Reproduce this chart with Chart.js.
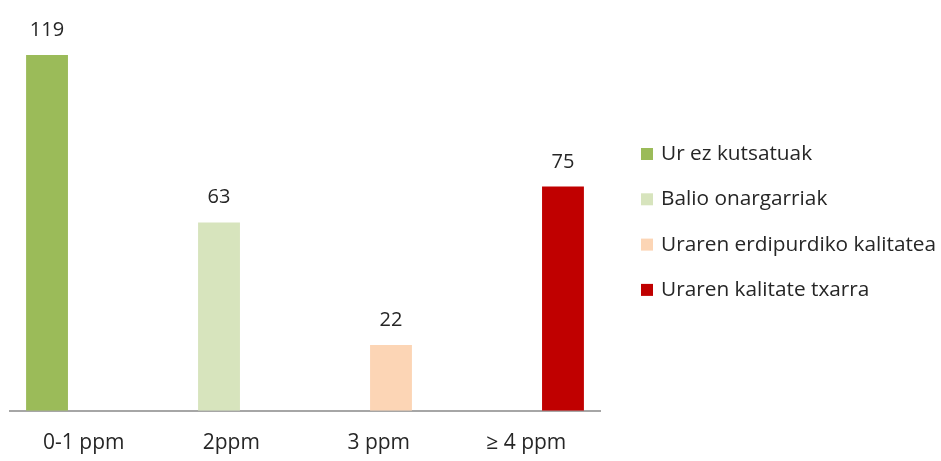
<!DOCTYPE html>
<html>
<head>
<meta charset="utf-8">
<script src="https://cdn.jsdelivr.net/npm/chart.js@4"></script>
<style>
  html, body { margin: 0; padding: 0; background: #fff; }
  #wrap { width: 941px; height: 461px; }
</style>
</head>
<body>
<div id="wrap"><canvas id="chart"></canvas></div>
<script>
// --- data ---
const categories = ['0-1 ppm', '2ppm', '3 ppm', '\u2265 4 ppm'];
const values = [119, 63, 22, 75];
const seriesLabels = ['Ur ez kutsatuak', 'Balio onargarriak', 'Uraren erdipurdiko kalitatea', 'Uraren kalitate txarra'];
const seriesColors = ['#9BBB59', '#D7E4BD', '#FCD5B5', '#C00000'];

const FONT = "'Open Sans', Lato, sans-serif";

// one dataset per class, each with a value only in its own category
const datasets = seriesLabels.map((label, i) => ({
  label: label,
  data: categories.map((_, j) => (j === i ? values[i] : null)),
  backgroundColor: seriesColors[i],
  borderWidth: 0,
  categoryPercentage: 0.664,
  barPercentage: 1.71
}));

// value labels above bars
const valueLabels = {
  id: 'valueLabels',
  afterDatasetsDraw(chart) {
    const ctx = chart.ctx;
    ctx.save();
    ctx.font = '20px ' + FONT;
    ctx.fillStyle = '#262626';
    ctx.textAlign = 'center';
    ctx.textBaseline = 'alphabetic';
    chart.data.datasets.forEach((ds, i) => {
      const meta = chart.getDatasetMeta(i);
      meta.data.forEach((bar, j) => {
        if (ds.data[j] == null) return;
        ctx.fillText(String(ds.data[j]), bar.x, bar.y - 19);
      });
    });
    ctx.restore();
  }
};

// legend on the right, drawn on the canvas
const sideLegend = {
  id: 'sideLegend',
  afterDraw(chart) {
    const ctx = chart.ctx;
    ctx.save();
    ctx.font = '20.8px ' + FONT;
    ctx.textBaseline = 'middle';
    ctx.textAlign = 'left';
    chart.data.datasets.forEach((ds, i) => {
      const y = 154 + i * 45.3;
      ctx.fillStyle = ds.backgroundColor;
      ctx.fillRect(641, y - 6, 12, 12);
      ctx.fillStyle = '#262626';
      ctx.fillText(ds.label, 661, y);
    });
    ctx.restore();
  }
};

new Chart(document.getElementById('chart'), {
  type: 'bar',
  data: { labels: categories, datasets: datasets },
  options: {
    responsive: true,
    maintainAspectRatio: false,
    animation: false,
    layout: { padding: { left: 10, right: 341, top: 52, bottom: -7 } },
    plugins: {
      legend: { display: false },
      tooltip: { enabled: false }
    },
    scales: {
      x: {
        grid: { display: false },
        border: { color: '#A6A6A6', width: 2 },
        ticks: {
          color: '#262626',
          font: { family: FONT, size: 21 },
          padding: 12,
          maxRotation: 0
        }
      },
      y: {
        display: false,
        min: 0,
        max: 120
      }
    }
  },
  plugins: [valueLabels, sideLegend]
});
</script>
</body>
</html>
